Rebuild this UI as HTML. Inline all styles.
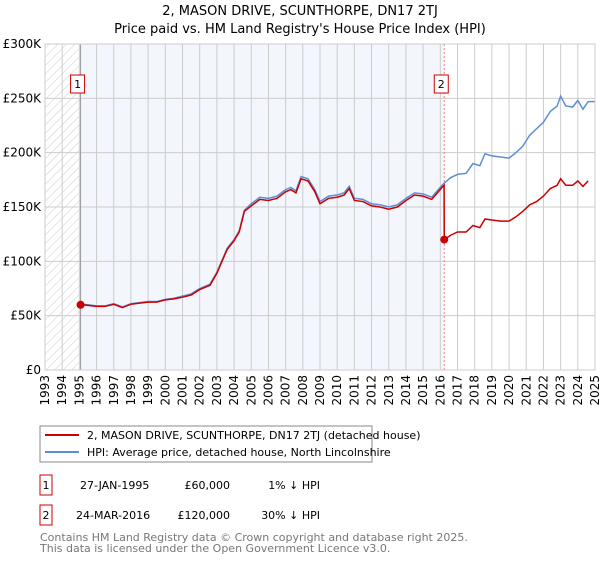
<!DOCTYPE html>
<html><head><meta charset="utf-8"><style>
body{margin:0;background:#fff;font-family:"Liberation Sans","DejaVu Sans",sans-serif;}
svg text{font-family:"DejaVu Sans","Liberation Sans",sans-serif;}
</style></head><body>
<svg id="c" width="600" height="560" xmlns="http://www.w3.org/2000/svg">
<defs><pattern id="hatch" width="6" height="6" patternUnits="userSpaceOnUse" patternTransform="rotate(45)"><line x1="0" y1="0" x2="0" y2="6" stroke="#ccc" stroke-width="1"/></pattern></defs>
<text x="300" y="15" text-anchor="middle" font-size="13">2, MASON DRIVE, SCUNTHORPE, DN17 2TJ</text>
<text x="300" y="33" text-anchor="middle" font-size="13">Price paid vs. HM Land Registry's House Price Index (HPI)</text>
<g id="plot"></g>
<g>
<rect x="40" y="426" width="332" height="36" fill="#fff" stroke="#888"/>
<line x1="45" y1="435" x2="79" y2="435" stroke="#cc0000" stroke-width="2"/>
<text x="87" y="439" font-size="11">2, MASON DRIVE, SCUNTHORPE, DN17 2TJ (detached house)</text>
<line x1="45" y1="452" x2="79" y2="452" stroke="#5b8fd1" stroke-width="2"/>
<text x="87" y="456" font-size="11">HPI: Average price, detached house, North Lincolnshire</text>
</g>
<g font-size="11">
<rect x="40" y="475" width="12" height="20" fill="none" stroke="#cc0000"/>
<text x="46" y="489" text-anchor="middle">1</text>
<text x="80" y="489">27-JAN-1995</text><text x="230" y="489" text-anchor="end">£60,000</text><text x="320" y="489" text-anchor="end">1% ↓ HPI</text>
<rect x="40" y="505" width="12" height="20" fill="none" stroke="#cc0000"/>
<text x="46" y="519" text-anchor="middle">2</text>
<text x="76" y="519">24-MAR-2016</text><text x="230" y="519" text-anchor="end">£120,000</text><text x="320" y="519" text-anchor="end">30% ↓ HPI</text>
</g>
<text x="40" y="541" font-size="11" fill="#777">Contains HM Land Registry data © Crown copyright and database right 2025.</text>
<text x="40" y="552" font-size="11" fill="#777">This data is licensed under the Open Government Licence v3.0.</text>
</svg>
<script>
const yTicks=[0,50,100,150,200,250,300];
const yTickLabels=["£0","£50K","£100K","£150K","£200K","£250K","£300K"];
const years=[1993,1994,1995,1996,1997,1998,1999,2000,2001,2002,2003,2004,2005,2006,2007,2008,2009,2010,2011,2012,2013,2014,2015,2016,2017,2018,2019,2020,2021,2022,2023,2024,2025];
const hpiDates=[1995.07,1995.5,1996,1996.5,1997,1997.5,1998,1998.5,1999,1999.5,2000,2000.5,2001,2001.5,2002,2002.3,2002.6,2003,2003.3,2003.6,2004,2004.3,2004.6,2005,2005.5,2006,2006.5,2007,2007.3,2007.6,2007.9,2008.3,2008.7,2009,2009.5,2010,2010.4,2010.7,2011,2011.5,2012,2012.5,2013,2013.5,2014,2014.5,2015,2015.5,2016.1,2016.23,2016.6,2017,2017.5,2017.9,2018.3,2018.6,2019,2019.5,2020,2020.4,2020.8,2021.2,2021.6,2022,2022.4,2022.8,2023,2023.3,2023.7,2024,2024.3,2024.6,2025];
const hpiValues=[60.5,60,59,59,61,58,61,62,63,63,65,66,68,70,75,77,79,90,101,112,120,128,147,153,159,158,160,166,168,165,178,176,166,155,160,161,163,169,158,157,153,152,150,152,158,163,162,159,170,172,177,180,181,190,188,199,197,196,195,200,206,216,222,228,238,243,252,243,242,248,240,247,247];
const priceDates=[1995.07,1995.5,1996,1996.5,1997,1997.5,1998,1998.5,1999,1999.5,2000,2000.5,2001,2001.5,2002,2002.3,2002.6,2003,2003.3,2003.6,2004,2004.3,2004.6,2005,2005.5,2006,2006.5,2007,2007.3,2007.6,2007.9,2008.3,2008.7,2009,2009.5,2010,2010.4,2010.7,2011,2011.5,2012,2012.5,2013,2013.5,2014,2014.5,2015,2015.5,2016.1,2016.22,2016.23,2016.6,2017,2017.5,2017.9,2018.3,2018.6,2019,2019.5,2020,2020.4,2020.8,2021.2,2021.6,2022,2022.4,2022.8,2023,2023.3,2023.7,2024,2024.3,2024.6,2025];
const priceValues=[60,59.5,58.5,58.5,60.5,57.5,60.5,61.5,62.5,62.5,64.5,65.5,67,69,74,76,78,89,100,111,119,127,146,151,157,156,158,164,166,163,176,174,164,153,158,159,161,167,156,155,151,150,148,150,156,161,160,157,168,170,120,124,127,127,133,131,139,138,137,137,141,146,152,155,160,167,170,176,170,170,174,169,174];
const sales=[{d:1995.07,v:60,l:"1"},{d:2016.23,v:120,l:"2"}];
const X0=45,X1=595,Y0=370,Y1=44;
const x=y=>X0+(y-1993)/(2025-1993)*(X1-X0);
const y=v=>Y0-v/300*(Y0-Y1);
const NS="http://www.w3.org/2000/svg",g=document.getElementById('plot');
function mk(t,a,p){const e=document.createElementNS(NS,t);for(const k in a)e.setAttribute(k,a[k]);(p||g).appendChild(e);return e;}
let e;
e=mk('rect',{x:x(1995.07),y:Y1,width:x(2016.23)-x(1995.07),height:Y0-Y1,fill:'#f3f6fd'});

e=mk('rect',{x:X0,y:Y1,width:x(1995.07)-X0,height:Y0-Y1,fill:'url(#hatch)'});

years.forEach((yr,i)=>{
 e=mk('line',{x1:x(yr),x2:x(yr),y1:Y1,y2:Y0,stroke:'#ccc','stroke-width':1});
 
 const tx=x(yr)+4;
 e=mk('text',{x:tx,y:375,'font-size':12,'text-anchor':'end',transform:`rotate(-90 ${tx} 375)`});e.textContent=yr;
 
});
yTicks.forEach((v,i)=>{
 e=mk('line',{x1:X0,x2:X1,y1:y(v),y2:y(v),stroke:'#ccc','stroke-width':1});
 
 e=mk('text',{x:41,y:y(v)+4,'font-size':12,'text-anchor':'end'});e.textContent=yTickLabels[i];
 
});
e=mk('line',{x1:x(1995.07),x2:x(1995.07),y1:Y1,y2:Y0,stroke:'#999'});

e=mk('line',{x1:x(2016.23),x2:x(2016.23),y1:Y1,y2:Y0,stroke:'#f08080','stroke-dasharray':'2,2'});

e=mk('polyline',{points:hpiDates.map((d,i)=>x(d)+','+y(hpiValues[i])).join(' '),fill:'none',stroke:'#5b8fd1','stroke-width':1.5});

e=mk('polyline',{points:priceDates.map((d,i)=>x(d)+','+y(priceValues[i])).join(' '),fill:'none',stroke:'#cc0000','stroke-width':1.5});

sales.forEach(s=>{
 e=mk('circle',{cx:x(s.d),cy:y(s.v),r:4,fill:'#cc0000'});
 
 e=mk('rect',{x:x(s.d)-10,y:75,width:14,height:18,fill:'#fff',stroke:'#cc0000'});
 
 e=mk('text',{x:x(s.d)-3,y:88,'font-size':11,'text-anchor':'middle'});e.textContent=s.l;
 
});
e=mk('rect',{x:X0,y:Y1,width:X1-X0,height:Y0-Y1,fill:'none',stroke:'#ccc'});

</script>
</body></html>
